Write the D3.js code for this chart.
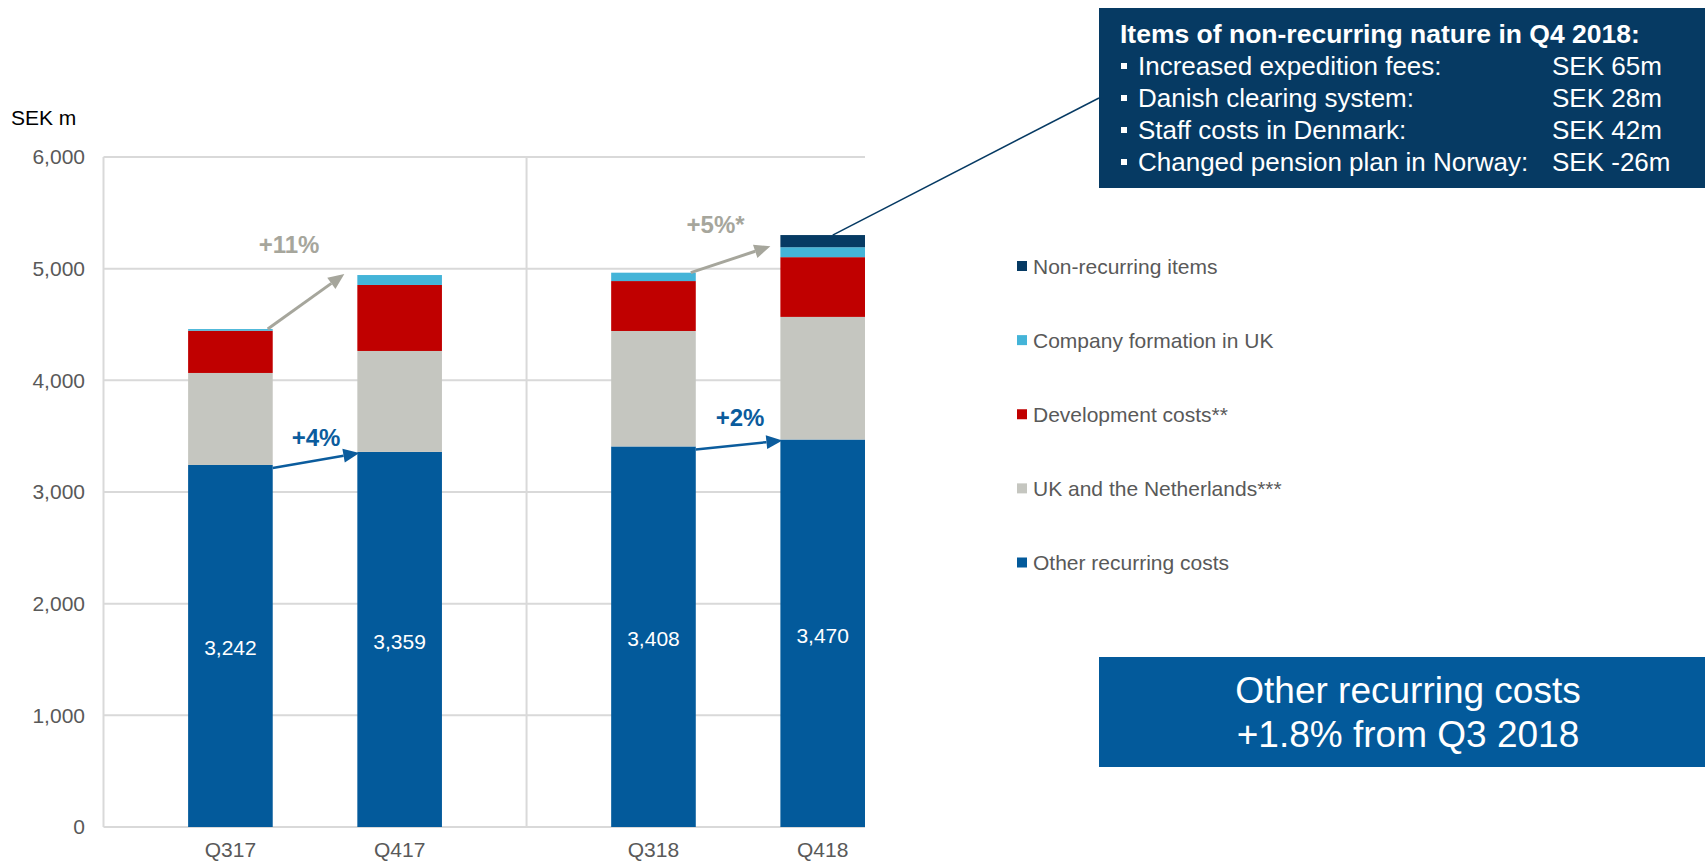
<!DOCTYPE html>
<html>
<head>
<meta charset="utf-8">
<script src="https://cdn.jsdelivr.net/npm/d3@7"></script>
<style>
  html, body { margin: 0; padding: 0; background: #fff; }
  svg { display: block; font-family: "Liberation Sans", Arial, sans-serif; }
</style>
</head>
<body>
<svg id="chart" width="1705" height="863"></svg>
<script>
// Quarterly cost breakdown, SEK m
const categories = ["Q317", "Q417", "Q318", "Q418"];
const otherRecurring = [3242, 3359, 3408, 3470];
const ukNetherlands = [824, 904, 1034, 1098];
const developmentCosts = [378, 591, 447, 535];
const companyFormationUK = [15, 89, 75, 89];
const nonRecurringItems = [0, 0, 0, 109];

const seriesKeys = ["other", "uknl", "dev", "company", "nonrec"];
const seriesLabels = ["Other recurring costs", "UK and the Netherlands***", "Development costs**",
                      "Company formation in UK", "Non-recurring items"];
const seriesColors = ["#035a9b", "#c5c6c0", "#c00000", "#44b4d8", "#063a63"];

const yTicks = [0, 1000, 2000, 3000, 4000, 5000, 6000];

// Growth annotations: [from, to, label]
const totalGrowth = [["Q317", "Q417", "+11%"], ["Q318", "Q418", "+5%*"]];
const recurringGrowth = [["Q317", "Q417", "+4%"], ["Q318", "Q418", "+2%"]];

// Items of non-recurring nature in Q4 2018
const nrTitle = "Items of non-recurring nature in Q4 2018:";
const nrNames = ["Increased expedition fees:", "Danish clearing system:", "Staff costs in Denmark:",
                 "Changed pension plan in Norway:"];
const nrValues = [65, 28, 42, -26];

const summaryLines = ["Other recurring costs", "+1.8% from Q3 2018"];

const rows = categories.map((c, i) => ({
  cat: c,
  other: otherRecurring[i],
  uknl: ukNetherlands[i],
  dev: developmentCosts[i],
  company: companyFormationUK[i],
  nonrec: nonRecurringItems[i]
}));

const svg = d3.select("#chart");
const plot = { left: 103.5, right: 865, top: 157, bottom: 827 };

// Each fiscal year's pair of quarters sits half a step apart from the next
const slotOf = i => i + (i >= 2 ? 0.5 : 0);
const slot = d3.scaleLinear().domain([-0.75, 3.75]).range([plot.left, plot.right]);
const step = slot(1) - slot(0);
const barW = step * 0.5;
const xc = c => slot(slotOf(categories.indexOf(c)));

const y = d3.scaleLinear().domain([0, 6000]).range([plot.bottom, plot.top]);

// Gridlines and frame
const grid = svg.append("g");
grid.selectAll("line.h").data(yTicks).join("line")
  .attr("x1", plot.left).attr("x2", plot.right)
  .attr("y1", d => y(d)).attr("y2", d => y(d))
  .attr("stroke", "#d9d9d9").attr("stroke-width", 2);
grid.append("line")
  .attr("x1", plot.left).attr("x2", plot.left)
  .attr("y1", plot.top).attr("y2", plot.bottom)
  .attr("stroke", "#d9d9d9").attr("stroke-width", 2);
grid.append("line")
  .attr("x1", slot(1.75)).attr("x2", slot(1.75))
  .attr("y1", plot.top).attr("y2", plot.bottom)
  .attr("stroke", "#d9d9d9").attr("stroke-width", 2);

// Y axis labels
const yAxis = svg.append("g").attr("transform", `translate(85,0)`)
  .call(d3.axisLeft(y).tickValues(yTicks).tickSize(0).tickPadding(0).tickFormat(d3.format(",")));
yAxis.select(".domain").remove();
yAxis.selectAll("text").attr("font-size", 21).attr("fill", "#595959")
  .attr("font-family", "Liberation Sans, Arial, sans-serif");

svg.append("text").attr("x", 11).attr("y", 125).attr("font-size", 21).attr("fill", "#000")
  .text("SEK m");

// Category labels
svg.append("g").selectAll("text").data(categories).join("text")
  .attr("x", d => xc(d)).attr("y", 857).attr("text-anchor", "middle")
  .attr("font-size", 21).attr("fill", "#595959").text(d => d);

// Stacked bars
const stacked = d3.stack().keys(seriesKeys)(rows);
const color = d3.scaleOrdinal().domain(seriesKeys).range(seriesColors);
svg.append("g").selectAll("g").data(stacked).join("g")
  .attr("fill", s => color(s.key))
  .selectAll("rect").data(s => s.filter(d => d[1] > d[0])).join("rect")
  .attr("x", d => xc(d.data.cat) - barW / 2)
  .attr("width", barW)
  .attr("y", d => y(d[1]))
  .attr("height", d => y(d[0]) - y(d[1]));

// Values of other recurring costs
svg.append("g").selectAll("text").data(rows).join("text")
  .attr("x", d => xc(d.cat)).attr("y", d => (y(0) + y(d.other)) / 2 + 9.5)
  .attr("text-anchor", "middle").attr("font-size", 21).attr("fill", "#fff")
  .text(d => d3.format(",")(d.other));

// Arrow helper: line with filled triangular head
function arrow(g, x1, y1, x2, y2, col, w) {
  const ang = Math.atan2(y2 - y1, x2 - x1);
  const hl = 16, hw = 7;
  const bx = x2 - hl * Math.cos(ang), by = y2 - hl * Math.sin(ang);
  g.append("line").attr("x1", x1).attr("y1", y1).attr("x2", bx).attr("y2", by)
    .attr("stroke", col).attr("stroke-width", w);
  g.append("path").attr("fill", col).attr("d",
    `M${x2},${y2}L${bx + hw * Math.sin(ang)},${by - hw * Math.cos(ang)}L${bx - hw * Math.sin(ang)},${by + hw * Math.cos(ang)}Z`);
}
const byCat = c => rows[categories.indexOf(c)];
const recurringTotal = r => r.other + r.uknl + r.dev + r.company;

const ann = svg.append("g");
const grayCol = "#a6a69c", blueCol = "#0b5c9d";
const totalOffsets = [[-17, -49], [-15, -26]];
const totalEndGap = [13, 10];
totalGrowth.forEach(([a, b, label], i) => {
  const x1 = xc(a) + barW / 2 - 5, y1 = y(recurringTotal(byCat(a)));
  const x2 = xc(b) - barW / 2 - totalEndGap[i], y2 = y(recurringTotal(byCat(b))) - 1;
  arrow(ann, x1, y1, x2, y2, grayCol, 3);
  ann.append("text").attr("x", (x1 + x2) / 2 + totalOffsets[i][0]).attr("y", (y1 + y2) / 2 + totalOffsets[i][1])
    .attr("text-anchor", "middle").attr("font-size", 24).attr("font-weight", "bold")
    .attr("fill", grayCol).text(label);
});
const recOffsets = [[0, -14], [1, -19]];
recurringGrowth.forEach(([a, b, label], i) => {
  const x1 = xc(a) + barW / 2, y1 = y(byCat(a).other) + 3;
  const x2 = xc(b) - barW / 2 + 2, y2 = y(byCat(b).other) + 1;
  arrow(ann, x1, y1, x2, y2, blueCol, 2.5);
  ann.append("text").attr("x", (x1 + x2) / 2 + recOffsets[i][0]).attr("y", (y1 + y2) / 2 + recOffsets[i][1])
    .attr("text-anchor", "middle").attr("font-size", 24).attr("font-weight", "bold")
    .attr("fill", blueCol).text(label);
});

// Legend (top to bottom: last series first)
const legendKeys = seriesKeys.slice().reverse();
const ly = d3.scalePoint().domain(legendKeys).range([266, 562.5]);
const legend = svg.append("g").selectAll("g").data(legendKeys).join("g")
  .attr("transform", k => `translate(1017,${ly(k)})`);
legend.append("rect").attr("x", 0).attr("y", -5).attr("width", 10).attr("height", 10)
  .attr("fill", k => color(k));
legend.append("text").attr("x", 16).attr("y", 7.5).attr("font-size", 21).attr("fill", "#595959")
  .text(k => seriesLabels[seriesKeys.indexOf(k)]);

// Non-recurring items box with callout line
const boxX = 1099;
svg.append("line")
  .attr("x1", xc("Q418") + 10).attr("y1", y(recurringTotal(byCat("Q418")) + nonRecurringItems[3]))
  .attr("x2", boxX).attr("y2", 98)
  .attr("stroke", "#063a63").attr("stroke-width", 1.5);
svg.append("rect").attr("x", boxX).attr("y", 8).attr("width", 1705 - boxX).attr("height", 180)
  .attr("fill", "#063a63");
svg.append("text").attr("x", 1120).attr("y", 42.7).attr("font-size", 26.5).attr("font-weight", "bold")
  .attr("fill", "#fff").text(nrTitle);
const nrRow = d3.scaleLinear().domain([0, 1]).range([75, 107]);
const nrG = svg.append("g").selectAll("g").data(nrNames).join("g")
  .attr("transform", (d, i) => `translate(0,${nrRow(i)})`);
nrG.append("rect").attr("x", 1121).attr("y", -12).attr("width", 6).attr("height", 6).attr("fill", "#fff");
nrG.append("text").attr("x", 1138).attr("y", 0).attr("font-size", 26).attr("fill", "#fff").text(d => d);
nrG.append("text").attr("x", 1552).attr("y", 0).attr("font-size", 26).attr("fill", "#fff")
  .text((d, i) => `SEK ${nrValues[i]}m`);

// Summary box
svg.append("rect").attr("x", boxX).attr("y", 657).attr("width", 1705 - boxX).attr("height", 110)
  .attr("fill", "#035a9b");
svg.append("g").selectAll("text").data(summaryLines).join("text")
  .attr("x", 1408).attr("y", (d, i) => 703 + i * 44).attr("text-anchor", "middle")
  .attr("font-size", 37).attr("fill", "#fff").text(d => d);
</script>
</body>
</html>
